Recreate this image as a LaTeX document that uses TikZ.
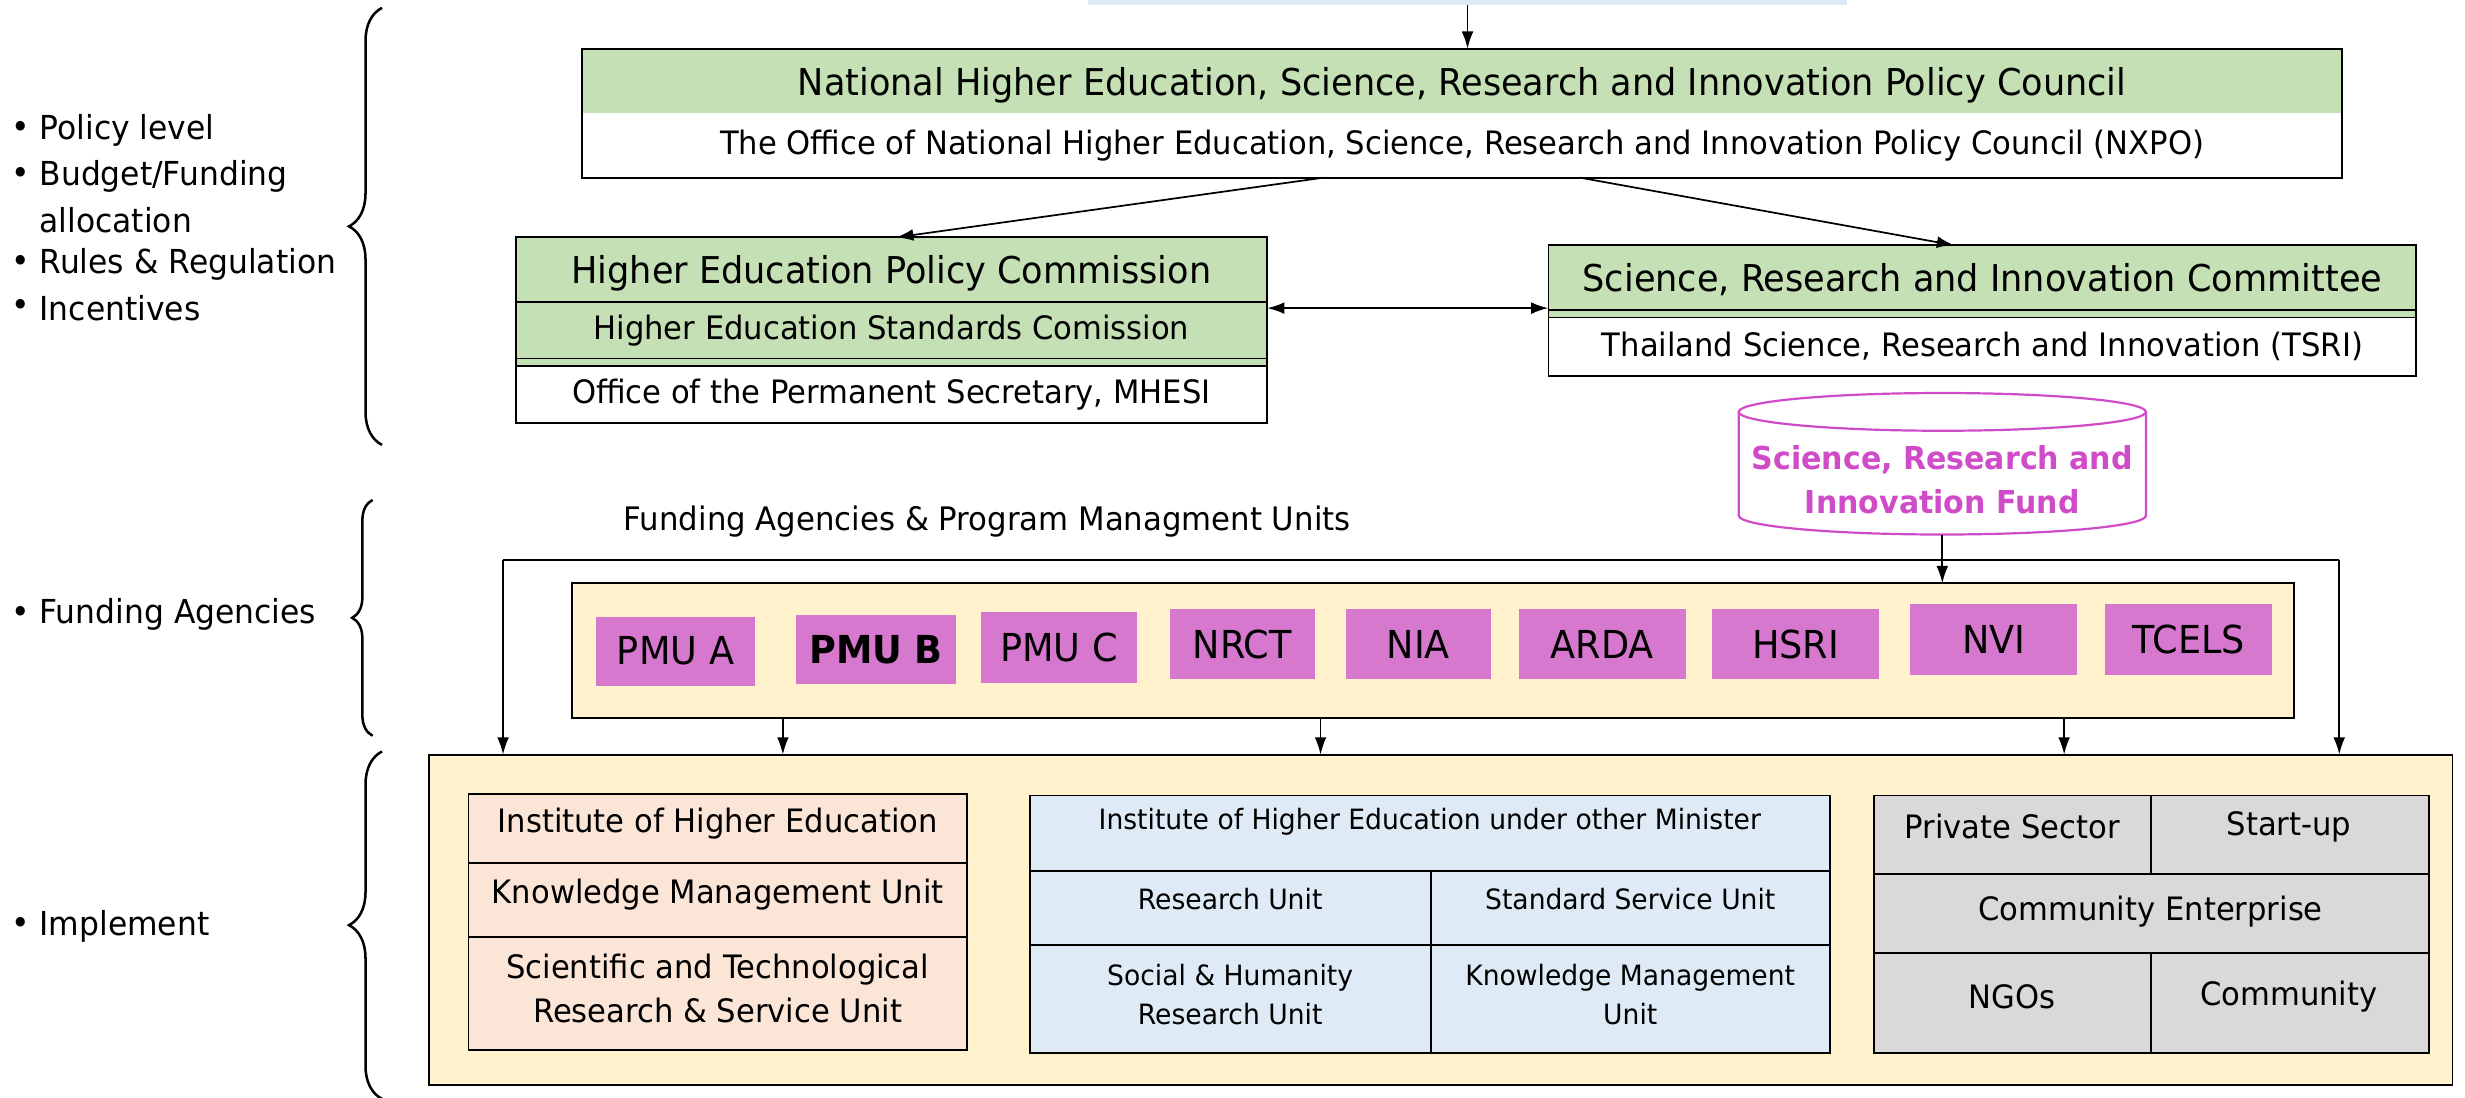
\documentclass[tikz,border=0pt]{standalone}
\usepackage{fontspec}
\setmainfont{DejaVu Sans}[FakeStretch=0.95]
\usetikzlibrary{arrows.meta,decorations.pathreplacing}
\definecolor{grn}{HTML}{C5E0B4}
\definecolor{lblue}{HTML}{DEEBF7}
\definecolor{yel}{HTML}{FFF2CC}
\definecolor{pmuc}{HTML}{D778CF}
\definecolor{mag}{HTML}{CF4BC7}
\definecolor{peach}{HTML}{FBE5D6}
\definecolor{gry}{HTML}{D9D9D9}
\newcommand\szT{\fontsize{23.5}{28}\selectfont}
\newcommand\szS{\fontsize{20.5}{25}\selectfont}
\newcommand\szL{\fontsize{21}{28}\selectfont}
\newcommand\szC{\fontsize{20.6}{28}\selectfont}
\newcommand\szP{\fontsize{24.5}{28}\selectfont}
\newcommand\szI{\fontsize{20.5}{28}\selectfont}
\newcommand\szM{\fontsize{17.8}{25}\selectfont}
\newcommand\szF{\bfseries\fontsize{20.1}{28}\selectfont}
\begin{document}
\begin{tikzpicture}[x=1pt,y=-1pt,
  cell/.style={draw, line width=1.2pt, anchor=north west, inner sep=0pt, outer sep=0pt},
  fillc/.style={anchor=north west, inner sep=0pt, outer sep=0pt},
  txt/.style={inner sep=0pt, align=center},
  sep/.style={line width=1.1pt},
  arr/.style={-{Latex[length=11pt,width=7.5pt]}, line width=1.1pt},
  darr/.style={{Latex[length=11pt,width=7.5pt]}-{Latex[length=11pt,width=7.5pt]}, line width=1.3pt},
  lbl/.style={inner sep=0pt, anchor=west, font=\szL},
  pmu/.style={fill=pmuc, anchor=north west, inner sep=0pt, font=\szP},
  brc/.style={decorate, decoration={brace, amplitude=#1}, line width=1.6pt}
]
\clip (0,0) rectangle (1568,698);

% left labels
\node[lbl] (b1) at (7,83) {•};  \node[lbl] (l1) at (25,83) {Policy level};
\node[lbl] (b2) at (7,112) {•}; \node[lbl] (l2) at (25,112) {Budget/Funding};
\node[lbl] (l2b) at (25,140) {allocation};
\node[lbl] (b3) at (7,168) {•}; \node[lbl] (l3) at (25,168) {Rules \& Regulation};
\node[lbl] (b4) at (7,196) {•}; \node[lbl] (l4) at (25,196) {Incentives};
\node[lbl] (b5) at (7,391) {•}; \node[lbl] (l5) at (25,391) {Funding Agencies};
\node[lbl] (b6) at (7,589) {•}; \node[lbl] (l6) at (25,589) {Implement};

\draw[brc=21pt] (243,283) -- (243,5);
\draw[brc=13pt] (237,468) -- (237,318);
\draw[brc=21pt] (243,699) -- (243,478);

% top bar
\node[fillc, fill=lblue, minimum width=483pt, minimum height=8pt] (topbar) at (692,-5) {};

% NXPO
\node[fillc, fill=grn, minimum width=1120pt, minimum height=41pt] (nxpoT) at (370,31) {};
\node[txt, font=\szT] (nxpoTt) at ([yshift=-2.5pt]nxpoT.center) {National Higher Education, Science, Research and Innovation Policy Council};
\node[fillc, minimum width=1120pt, minimum height=41pt, font=\szS] (nxpoB) at (370,72) {The Office of National Higher Education, Science, Research and Innovation Policy Council (NXPO)};
\node[cell, minimum width=1120pt, minimum height=82pt] (nxpo) at (370,31) {};

% HEPC
\node[fillc, fill=grn, minimum width=478pt, minimum height=41pt] (hepcA) at (328,151) {};
\node[txt, font=\szT] (hepcAt) at ([yshift=-2.5pt]hepcA.center) {Higher Education Policy Commission};
\node[fillc, fill=grn, minimum width=478pt, minimum height=36pt, font=\szS] (hepcB) at (328,192) {Higher Education Standards Comission};
\node[fillc, fill=grn, minimum width=478pt, minimum height=5pt] (hepcS) at (328,228) {};
\node[fillc, minimum width=478pt, minimum height=36pt, font=\szS] (hepcC) at (328,233) {Office of the Permanent Secretary, MHESI};
\draw[sep] (hepcB.north west) -- (hepcB.north east);
\draw[sep] (hepcS.north west) -- (hepcS.north east);
\draw[sep] (hepcS.south west) -- (hepcS.south east);
\node[cell, minimum width=478pt, minimum height=118pt] (hepc) at (328,151) {};

% SRIC
\node[fillc, fill=grn, minimum width=552pt, minimum height=41pt] (sricA) at (985,156) {};
\node[txt, font=\szT] (sricAt) at ([yshift=-1.5pt]sricA.center) {Science, Research and Innovation Committee};
\node[fillc, fill=grn, minimum width=552pt, minimum height=5pt] (sricS) at (985,197) {};
\node[fillc, minimum width=552pt, minimum height=37pt, font=\szS] (sricB) at (985,202) {Thailand Science, Research and Innovation (TSRI)};
\draw[sep] (sricS.north west) -- (sricS.north east);
\draw[sep] (sricS.south west) -- (sricS.south east);
\node[cell, minimum width=552pt, minimum height=83pt] (sric) at (985,156) {};

% arrows upper
\draw[arr] (topbar.south) -- (topbar.south |- nxpo.north);
\draw[arr] ([xshift=-88pt]nxpo.south) -- ([xshift=3pt]hepc.north);
\draw[arr] ([xshift=75pt]nxpo.south) -- ([xshift=-18pt]sric.north);
\draw[darr] ([yshift=14pt]hepc.east) -- ([yshift=14pt]hepc.east -| sric.west);

% fund cylinder
\node[fillc, minimum width=259pt, minimum height=90pt] (fundbox) at (1106,250) {};
\draw[mag, line width=1.4pt] (1106,262) -- (1106,328) arc[start angle=180, end angle=360, x radius=129.5pt, y radius=12pt] -- (1365,262);
\draw[mag, line width=1.4pt] (1235.5,262) ellipse [x radius=129.5pt, y radius=12pt];
\node[txt, font=\szF, text=mag] (fund) at (1235.5,305) {Science, Research and\\Innovation Fund};

% caption
\node[txt, font=\szC] (cap) at (628,332) {Funding Agencies \& Program Managment Units};

% implement box
\node[cell, fill=yel, minimum width=1287pt, minimum height=210pt] (impl) at (273,480) {};

% funding box
\node[cell, fill=yel, minimum width=1095pt, minimum height=86pt] (fa) at (364,371) {};
\node[pmu, minimum width=101pt, minimum height=44pt] (pa) at (379,392) {PMU A};
\node[pmu, minimum width=102pt, minimum height=44pt] (pb) at (506,391) {\bfseries PMU B};
\node[pmu, minimum width=99pt, minimum height=45pt] (pc) at (624,389) {PMU C};
\node[pmu, minimum width=92pt, minimum height=45pt] (nrct) at (744,387) {NRCT};
\node[pmu, minimum width=92pt, minimum height=45pt] (nia) at (856,387) {NIA};
\node[pmu, minimum width=106pt, minimum height=45pt] (arda) at (966,387) {ARDA};
\node[pmu, minimum width=106pt, minimum height=45pt] (hsri) at (1089,387) {HSRI};
\node[pmu, minimum width=106pt, minimum height=45pt] (nvi) at (1215,384) {NVI};
\node[pmu, minimum width=106pt, minimum height=45pt] (tcels) at (1339,384) {TCELS};

\draw[arr] (fundbox.south) -- (fundbox.south |- fa.north);

\coordinate (brL) at (320,356);
\coordinate (brR) at (1488,356);
\draw[line width=1.3pt] (brL) -- (brR);
\draw[arr] (brL) -- (brL |- impl.north);
\draw[arr] (brR) -- (brR |- impl.north);

\draw[arr] ([xshift=-413.5pt]fa.south) -- ([xshift=-413.5pt]fa.south |- impl.north);
\draw[arr] ([xshift=-71.5pt]fa.south) -- ([xshift=-71.5pt]fa.south |- impl.north);
\draw[arr] ([xshift=401.5pt]fa.south) -- ([xshift=401.5pt]fa.south |- impl.north);

% left column
\node[cell, fill=peach, minimum width=317pt, minimum height=44pt] (ia) at (298,505) {};
\node[cell, fill=peach, minimum width=317pt, minimum height=47pt] (ib) at (298,549) {};
\node[cell, fill=peach, minimum width=317pt, minimum height=72pt] (ic) at (298,596) {};
\node[txt, font=\szI] (iat) at (456.5,524) {Institute of Higher Education};
\node[txt, font=\szI] (ibt) at (456.5,569) {Knowledge Management Unit};
\node[txt, font=\szI] (ict) at (456.5,629) {Scientific and Technological\\Research \& Service Unit};

% middle column
\node[cell, fill=lblue, minimum width=509pt, minimum height=48pt] (ma) at (655,506) {};
\node[cell, fill=lblue, minimum width=255pt, minimum height=47pt] (mb) at (655,554) {};
\node[cell, fill=lblue, minimum width=254pt, minimum height=47pt] (mc) at (910,554) {};
\node[cell, fill=lblue, minimum width=255pt, minimum height=69pt] (md) at (655,601) {};
\node[cell, fill=lblue, minimum width=254pt, minimum height=69pt] (me) at (910,601) {};
\node[txt, font=\szM] (mat) at (909.5,523) {Institute of Higher Education under other Minister};
\node[txt, font=\szM] (mbt) at (782.5,572) {Research Unit};
\node[txt, font=\szM] (mct) at (1037,572) {Standard Service Unit};
\node[txt, font=\szM] (mdt) at (782.5,632.5) {Social \& Humanity\\Research Unit};
\node[txt, font=\szM] (met) at (1037,632.5) {Knowledge Management\\Unit};

% right column
\node[cell, fill=gry, minimum width=176pt, minimum height=50pt] (ra) at (1192,506) {};
\node[cell, fill=gry, minimum width=177pt, minimum height=50pt] (rb) at (1368,506) {};
\node[cell, fill=gry, minimum width=353pt, minimum height=50pt] (rc) at (1192,556) {};
\node[cell, fill=gry, minimum width=176pt, minimum height=64pt] (rd) at (1192,606) {};
\node[cell, fill=gry, minimum width=177pt, minimum height=64pt] (re) at (1368,606) {};
\node[txt, font=\szI] (rat) at (1280,526) {Private Sector};
\node[txt, font=\szI] (rbt) at (1456,526) {Start-up};
\node[txt, font=\szI] (rct) at (1368,580) {Community Enterprise};
\node[txt, font=\szI] (rdt) at (1280,634) {NGOs};
\node[txt, font=\szI] (ret) at (1456,634) {Community};
\end{tikzpicture}
\end{document}
